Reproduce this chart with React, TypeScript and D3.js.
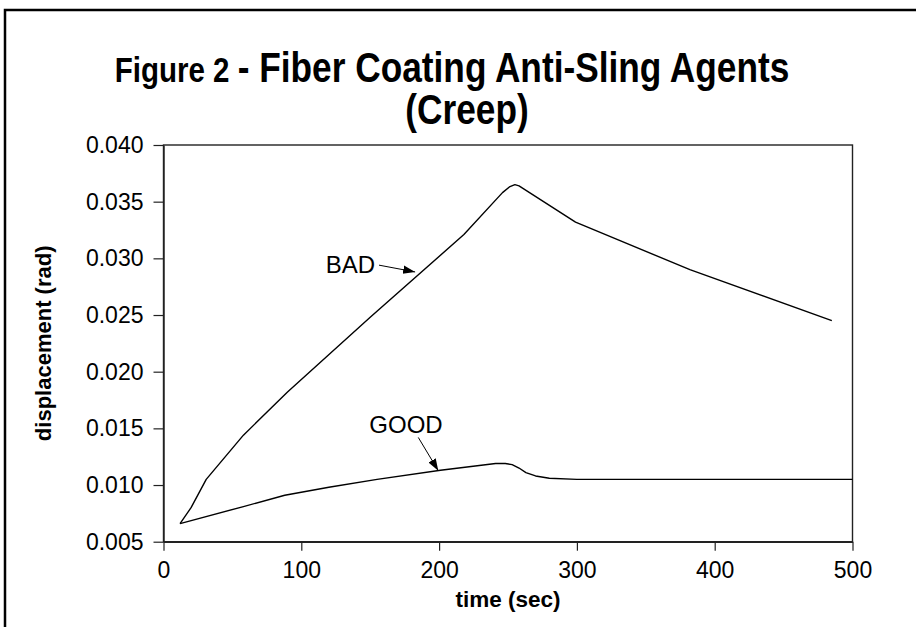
import {useEffect, useRef} from "react";
import * as d3 from "d3";

// time (sec) / displacement (rad)
const badTime = [12, 20, 31, 58, 90, 150, 218, 246, 251, 255, 258, 299, 382, 485];
const badDisp = [0.0066, 0.0080, 0.0105, 0.0144, 0.0182, 0.0248, 0.0321, 0.0358, 0.0363, 0.0365, 0.0364, 0.0332, 0.0290, 0.0245];

const goodTime = [12, 58, 88, 120, 155, 201, 241, 248, 253, 258, 263, 270, 280, 300, 340, 440, 500];
const goodDisp = [0.0066, 0.0081, 0.0091, 0.0098, 0.0105, 0.0113, 0.0119, 0.0119, 0.0118, 0.0115, 0.0111, 0.0108, 0.0106, 0.0105, 0.0105, 0.0105, 0.0105];

const xTicks = [0, 100, 200, 300, 400, 500];
const yTicks = [0.005, 0.010, 0.015, 0.020, 0.025, 0.030, 0.035, 0.040];

// label text, label anchor, arrow from -> to (data units)
const notes = [
    {label: "BAD", tx: 153.5, ty: 0.0287, anchor: "end", x1: 156.4, y1: 0.0294, x2: 182.6, y2: 0.0288},
    {label: "GOOD", tx: 176, ty: 0.0146, anchor: "middle", x1: 184.9, y1: 0.0142, x2: 199.4, y2: 0.01126},
];

const App = () => {
    const ref = useRef<HTMLDivElement>(null);

    useEffect(() => {
        const el = ref.current;
        if (!el) return;
        d3.select(el).selectAll("*").remove();

        const W = 916, H = 627;
        const font = "Arial, 'Liberation Sans', Helvetica, sans-serif";
        const svg = d3.select(el).append("svg")
            .attr("width", W).attr("height", H)
            .style("position", "absolute").style("left", 0).style("top", 0)
            .style("font-family", font);

        svg.append("rect").attr("width", W).attr("height", H).attr("fill", "#fff");

        // outer frame, runs off the right and bottom edge
        svg.append("rect")
            .attr("x", 5).attr("y", 10).attr("width", 940).attr("height", 660)
            .attr("fill", "none").attr("stroke", "#000").attr("stroke-width", 2.5);

        // title - condensed bold, squeezed horizontally
        const t1 = svg.append("text").attr("transform", "translate(452,82) scale(0.82,1)")
            .attr("text-anchor", "middle").attr("font-weight", "bold");
        t1.append("tspan").attr("font-size", 36).text("Figure 2 ");
        t1.append("tspan").attr("font-size", 43).text("- Fiber Coating Anti-Sling Agents");
        svg.append("text").attr("transform", "translate(467,124) scale(0.82,1)")
            .attr("text-anchor", "middle").attr("font-weight", "bold").attr("font-size", 43)
            .text("(Creep)");

        const x = d3.scaleLinear().domain([0, 500]).range([163.5, 852.5]);
        const y = d3.scaleLinear().domain([0.005, 0.040]).range([541.7, 145]);

        // plot box
        svg.append("rect")
            .attr("x", x(0)).attr("y", y(0.040))
            .attr("width", x(500) - x(0)).attr("height", y(0.005) - y(0.040))
            .attr("fill", "none").attr("stroke", "#222").attr("stroke-width", 1.4);

        const xAxis = d3.axisBottom(x).tickValues(xTicks).tickSize(9).tickSizeOuter(0)
            .tickFormat(d3.format("d"));
        const gx = svg.append("g").attr("transform", `translate(0,${y(0.005)})`).call(xAxis);
        gx.select(".domain").attr("stroke", "#222").attr("stroke-width", 1.4);
        gx.selectAll(".tick line").attr("stroke", "#222").attr("stroke-width", 1.2);
        gx.selectAll(".tick text").attr("font-size", 23).attr("font-family", font)
            .attr("fill", "#000").attr("dy", "1.05em");

        const yAxis = d3.axisLeft(y).tickValues(yTicks).tickSize(10).tickSizeOuter(0)
            .tickFormat(d3.format(".3f"));
        const gy = svg.append("g").attr("transform", `translate(${x(0)},0)`).call(yAxis);
        gy.select(".domain").attr("stroke", "#222").attr("stroke-width", 1.4);
        gy.selectAll(".tick line").attr("stroke", "#222").attr("stroke-width", 1.2);
        gy.selectAll(".tick text").attr("font-size", 23).attr("font-family", font)
            .attr("fill", "#000").attr("x", -20);

        // axis titles
        svg.append("text").attr("x", 508).attr("y", 607)
            .attr("text-anchor", "middle").attr("font-weight", "bold").attr("font-size", 22.5)
            .text("time (sec)");
        svg.append("text")
            .attr("transform", `translate(51,${(y(0.005) + y(0.040)) / 2}) rotate(-90)`)
            .attr("text-anchor", "middle").attr("font-weight", "bold").attr("font-size", 22)
            .text("displacement (rad)");

        const line = d3.line<[number, number]>()
            .x(d => x(d[0])).y(d => y(d[1]))
            .curve(d3.curveLinear);

        const series = [
            badTime.map((t, i) => [t, badDisp[i]] as [number, number]),
            goodTime.map((t, i) => [t, goodDisp[i]] as [number, number]),
        ];
        svg.selectAll(".series").data(series).enter().append("path")
            .attr("class", "series")
            .attr("d", d => line(d))
            .attr("fill", "none").attr("stroke", "#000").attr("stroke-width", 1.4)
            .attr("stroke-linejoin", "round");

        // annotations with arrows
        const defs = svg.append("defs");
        defs.append("marker").attr("id", "arr")
            .attr("viewBox", "0 0 10 10").attr("refX", 10).attr("refY", 5)
            .attr("markerWidth", 12).attr("markerHeight", 12)
            .attr("markerUnits", "userSpaceOnUse").attr("orient", "auto")
            .append("path").attr("d", "M0,1.5 L10,5 L0,8.5 Z").attr("fill", "#000");

        const ng = svg.selectAll(".note").data(notes).enter().append("g").attr("class", "note");
        ng.append("text")
            .attr("x", d => x(d.tx)).attr("y", d => y(d.ty))
            .attr("text-anchor", d => d.anchor).attr("font-size", 24)
            .text(d => d.label);
        ng.append("line")
            .attr("x1", d => x(d.x1)).attr("y1", d => y(d.y1))
            .attr("x2", d => x(d.x2)).attr("y2", d => y(d.y2))
            .attr("stroke", "#000").attr("stroke-width", 1)
            .attr("marker-end", "url(#arr)");
    }, []);

    return (
        <div>
            <div ref={ref}></div>
        </div>
    );
};

export default App;
